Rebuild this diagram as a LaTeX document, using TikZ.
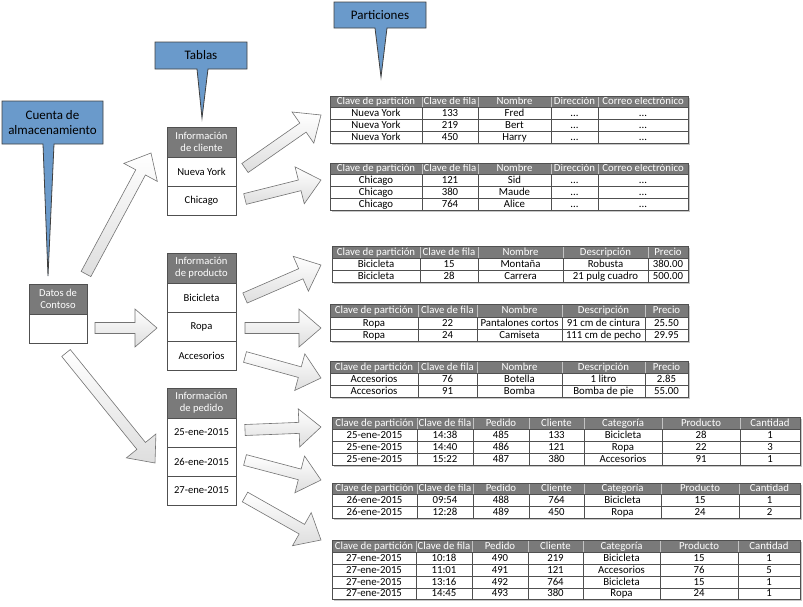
\documentclass[tikz,border=0pt]{standalone}
\usepackage{fontspec}
\setmainfont{Carlito}
\usetikzlibrary{calc}

\definecolor{hdrgray}{HTML}{7A7A7A}
\definecolor{calloutblue}{HTML}{6A9ACB}
\definecolor{rulegray}{HTML}{505050}

\tikzset{
  celltxt/.style={inner sep=0pt, text height=7.1pt, text depth=0.6pt,
                  font=\fontsize{10.8}{12}\selectfont},
  hdrcell/.style={fill=hdrgray, draw=white!55!hdrgray, line width=0.6pt},
  hdrtext/.style={celltxt, text=white},
  bodycell/.style={draw=rulegray, line width=0.7pt, fill=white},
  bodytext/.style={celltxt, text=black},
  tabshadow/.style={fill=black!22},
  boxhdr/.style={draw=rulegray, line width=0.7pt, fill=hdrgray, text=white,
                 align=center, inner sep=0pt, minimum width=69pt, minimum height=30pt,
                 font=\fontsize{10.6}{12}\selectfont},
  boxcell/.style={draw=rulegray, line width=0.7pt, fill=white, align=center,
                  inner sep=0pt, minimum width=69pt, minimum height=29pt,
                  font=\fontsize{10.6}{12}\selectfont},
  callout/.style={fill=calloutblue, draw=black!75, line width=0.8pt, line join=miter},
  callouttext/.style={align=center, inner sep=0pt, font=\fontsize{13}{15.5}\selectfont},
  blockarr/.style={draw=black!55, line width=0.6pt, top color=white,
                   bottom color=black!13, line join=miter}
}

% ellipsis placeholder usable inside \foreach lists
\newcommand{\tdots}{...}

% block arrow from tail #1 to tip #2
\newcommand{\arrSW}{5.5pt}
\newcommand{\arrHW}{19pt}
\newcommand{\arrHL}{22pt}
\newcommand{\blockarrow}[2]{%
  \path[blockarr]
    ($(#1)!\arrSW!90:(#2)$) --
    ($(#2)!\arrHL!(#1)!\arrSW!-90:(#1)$) --
    ($(#2)!\arrHL!(#1)!\arrHW!-90:(#1)$) --
    (#2) --
    ($(#2)!\arrHL!(#1)!\arrHW!90:(#1)$) --
    ($(#2)!\arrHL!(#1)!\arrSW!90:(#1)$) --
    ($(#1)!\arrSW!-90:(#2)$) -- cycle;}

% partition table: #1 id, #2 column edges, #3 row edges, #4 header, #5 rows
\newcommand{\parttable}[5]{%
  \def\colx{{#2}}%
  \def\rowy{{#3}}%
  \pgfmathtruncatemacro\ncol{dim(\colx)-1}%
  \pgfmathtruncatemacro\nrow{dim(\rowy)-1}%
  \pgfmathsetmacro\xlo{\colx[0]}%
  \pgfmathsetmacro\xhi{\colx[\ncol]}%
  \pgfmathsetmacro\ylo{\rowy[0]}%
  \pgfmathsetmacro\yhi{\rowy[\nrow]}%
  \path[tabshadow] (\xlo+1.5,\ylo+1.5) rectangle (\xhi+1.5,\yhi+1.5);
  \foreach \h [count=\ci] in {#4} {%
    \pgfmathsetmacro\xa{\colx[\ci-1]}%
    \pgfmathsetmacro\xb{\colx[\ci]}%
    \pgfmathsetmacro\ya{\rowy[0]}%
    \pgfmathsetmacro\yb{\rowy[1]}%
    \path[hdrcell] (\xa,\ya) rectangle (\xb,\yb);
    \node[hdrtext] (#1-h-\ci) at ({(\xa+\xb)/2},{(\ya+\yb)/2}) {\h};
  }%
  \foreach \r [count=\ri] in {#5} {%
    \foreach \c [count=\ci] in \r {%
      \pgfmathsetmacro\xa{\colx[\ci-1]}%
      \pgfmathsetmacro\xb{\colx[\ci]}%
      \pgfmathsetmacro\ya{\rowy[\ri]}%
      \pgfmathsetmacro\yb{\rowy[\ri+1]}%
      \path[bodycell] (\xa,\ya) rectangle (\xb,\yb);
      \node[bodytext] (#1-\ri-\ci) at ({(\xa+\xb)/2},{(\ya+\yb)/2}) {\c};
    }%
  }%
  \draw[rulegray, line width=0.7pt] (\xlo,\ylo) rectangle (\xhi,\yhi);
}

\begin{document}
\begin{tikzpicture}[x=1pt,y=-1pt]
\useasboundingbox (0,0) rectangle (803,606);

% ---------- callouts ----------
\path[callout] (2,101) -- (103,101) -- (103,144) -- (54,144) -- (48,276)
               -- (43,144) -- (2,144) -- cycle;
\node[callouttext] (cuenta) at (52.5,122.5) {Cuenta de\\almacenamiento};

\path[callout] (155,42) -- (247,42) -- (247,69) -- (208,69) -- (202,118)
               -- (197,69) -- (155,69) -- cycle;
\node[callouttext] (tablas) at (201,55.5) {Tablas};

\path[callout] (334,2) -- (426,2) -- (426,28) -- (387,28) -- (381,77)
               -- (375,28) -- (334,28) -- cycle;
\node[callouttext] (particiones) at (380,15) {Particiones};

% ---------- storage account ----------
\node[boxhdr, minimum width=58pt] (datos) at (58,299) {Datos de\\Contoso};
\node[boxcell, minimum width=58pt] (datosbody) at (58,328.5) {};

% ---------- tables ----------
\node[boxhdr] (cli) at (201.5,142) {Información\\de cliente};
\node[boxcell] (cliny) at (201.5,171.5) {Nueva York};
\node[boxcell] (clichi) at (201.5,200.5) {Chicago};

\node[boxhdr] (prod) at (201.5,268) {Información\\de producto};
\node[boxcell] (prodbic) at (201.5,297.5) {Bicicleta};
\node[boxcell] (prodropa) at (201.5,326.5) {Ropa};
\node[boxcell] (prodacc) at (201.5,355.5) {Accesorios};

\node[boxhdr] (ped) at (201.5,403) {Información\\de pedido};
\node[boxcell] (ped25) at (201.5,432.5) {25-ene-2015};
\node[boxcell] (ped26) at (201.5,461.5) {26-ene-2015};
\node[boxcell] (ped27) at (201.5,490.5) {27-ene-2015};

% ---------- arrow end points ----------
\coordinate (a1t) at (86,274);   \coordinate (a1p) at (151,153);
\coordinate (a2t) at (95,328);   \coordinate (a2p) at (157,328);
\coordinate (a3t) at (66,353);   \coordinate (a3p) at (155,463);
\coordinate (b1t) at (245,168);  \coordinate (b1p) at (321,115);
\coordinate (b2t) at (245,199);  \coordinate (b2p) at (321,180);
\coordinate (b3t) at (245,298);  \coordinate (b3p) at (321,265);
\coordinate (b4t) at (245,328);  \coordinate (b4p) at (321,328);
\coordinate (b5t) at (245,357);  \coordinate (b5p) at (321,378);
\coordinate (b6t) at (245,430);  \coordinate (b6p) at (321,427);
\coordinate (b7t) at (245,460);  \coordinate (b7p) at (321,480);
\coordinate (b8t) at (245,497);  \coordinate (b8p) at (321,540);

\blockarrow{a1t}{a1p}
\blockarrow{a2t}{a2p}
\blockarrow{a3t}{a3p}
\blockarrow{b1t}{b1p}
\blockarrow{b2t}{b2p}
\blockarrow{b3t}{b3p}
\blockarrow{b4t}{b4p}
\blockarrow{b5t}{b5p}
\blockarrow{b6t}{b6p}
\blockarrow{b7t}{b7p}
\blockarrow{b8t}{b8p}

% ---------- partitions ----------
\parttable{pny}{330,422,478,551,598,688}{96,107,119,131,143}
  {Clave de partición,Clave de fila,Nombre,Dirección,Correo electrónico}
  {{Nueva York,133,Fred,\tdots,\tdots},{Nueva York,219,Bert,\tdots,\tdots},{Nueva York,450,Harry,\tdots,\tdots}}

\parttable{pchi}{330,422,478,551,598,688}{163,174,186,198,210}
  {Clave de partición,Clave de fila,Nombre,Dirección,Correo electrónico}
  {{Chicago,121,Sid,\tdots,\tdots},{Chicago,380,Maude,\tdots,\tdots},{Chicago,764,Alice,\tdots,\tdots}}

\parttable{pbic}{332,420,478,563,648,688}{246,258,270,282}
  {Clave de partición,Clave de fila,Nombre,Descripción,Precio}
  {{Bicicleta,15,Montaña,Robusta,380.00},{Bicicleta,28,Carrera,21 pulg cuadro,500.00}}

\parttable{propa}{330,418,477,562,645,688}{304,317,329,341}
  {Clave de partición,Clave de fila,Nombre,Descripción,Precio}
  {{Ropa,22,Pantalones cortos,91 cm de cintura,25.50},{Ropa,24,Camiseta,111 cm de pecho,29.95}}

\parttable{pacc}{330,418,477,562,645,688}{361,373,385,397}
  {Clave de partición,Clave de fila,Nombre,Descripción,Precio}
  {{Accesorios,76,Botella,1 litro,2.85},{Accesorios,91,Bomba,Bomba de pie,55.00}}

\parttable{p25}{332,417,473,529,584,662,740,800}{417,429,441,453,465}
  {Clave de partición,Clave de fila,Pedido,Cliente,Categoría,Producto,Cantidad}
  {{25-ene-2015,14:38,485,133,Bicicleta,28,1},{25-ene-2015,14:40,486,121,Ropa,22,3},{25-ene-2015,15:22,487,380,Accesorios,91,1}}

\parttable{p26}{332,417,473,529,584,661,739,800}{483,494,506,518}
  {Clave de partición,Clave de fila,Pedido,Cliente,Categoría,Producto,Cantidad}
  {{26-ene-2015,09:54,488,764,Bicicleta,15,1},{26-ene-2015,12:28,489,450,Ropa,24,2}}

\parttable{p27}{332,416,472,528,583,660,738,800}{540,552,564,576,588,599}
  {Clave de partición,Clave de fila,Pedido,Cliente,Categoría,Producto,Cantidad}
  {{27-ene-2015,10:18,490,219,Bicicleta,15,1},{27-ene-2015,11:01,491,121,Accesorios,76,5},{27-ene-2015,13:16,492,764,Bicicleta,15,1},{27-ene-2015,14:45,493,380,Ropa,24,1}}

\end{tikzpicture}
\end{document}
